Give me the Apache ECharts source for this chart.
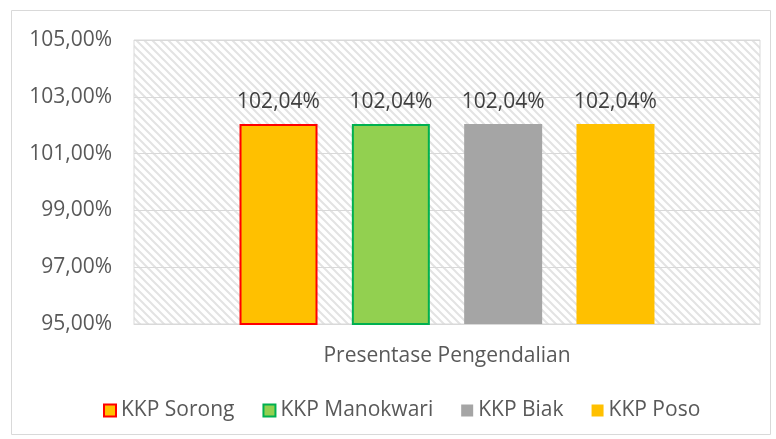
<!DOCTYPE html>
<html><head><meta charset="utf-8">
<script src="https://cdn.jsdelivr.net/npm/echarts@6/dist/echarts.min.js"></script>
<style>html,body{margin:0;padding:0;background:#fff}#c{width:776px;height:439px}</style>
</head><body><div id="c"></div>
<script>
var categories = ['Presentase Pengendalian'];
var seriesNames = ['KKP Sorong', 'KKP Manokwari', 'KKP Biak', 'KKP Poso'];
var seriesValues = [[102.04], [102.04], [102.04], [102.04]];
var yTicks = [95, 97, 99, 101, 103, 105];

var fills = ['#FFC000', '#92D050', '#A5A5A5', '#FFC000'];
var borders = ['#FF0000', '#00B050', '#A5A5A5', '#FFC000'];
var borderW = [2, 2, 0, 0];

var pc = document.createElement('canvas');
pc.width = 8; pc.height = 8;
var g = pc.getContext('2d');
g.fillStyle = '#fff'; g.fillRect(0,0,8,8);
g.strokeStyle = '#E3E3E3'; g.lineWidth = 2;
g.beginPath();
g.moveTo(-2,-2); g.lineTo(10,10);
g.moveTo(-2,6); g.lineTo(2,10);
g.moveTo(6,-2); g.lineTo(10,2);
g.stroke();

function fmt(v){ return v.toFixed(2).replace('.', ',') + '%'; }

var FONT = 'Open Sans';
var FS = 21;
var chart = echarts.init(document.getElementById('c'));
chart.setOption({
  animation: false,
  textStyle: { fontFamily: FONT },
  graphic: [{ type: 'rect', shape: { x: 11.5, y: 10.5, width: 759, height: 424 }, style: { fill: 'none', stroke: '#D9D9D9', lineWidth: 1 }, silent: true }],
  grid: { left: 134, right: 16, top: 40, bottom: 115, show: true, backgroundColor: { image: pc, repeat: 'repeat' }, borderColor: '#D9D9D9', borderWidth: 1 },
  legend: {
    top: 395, left: 98, itemWidth: 12, itemHeight: 12, itemGap: 28,
    textStyle: { fontSize: FS, color: '#595959', fontFamily: FONT, padding: [0,0,0,0] },
    data: seriesNames.map(function(n, i){ return { name: n, icon: 'rect', itemStyle: { color: fills[i], borderColor: borders[i], borderWidth: borderW[i] } }; })
  },
  xAxis: {
    type: 'category', data: categories,
    axisLine: { lineStyle: { color: '#D9D9D9' } }, axisTick: { show: false },
    axisLabel: { fontSize: FS, color: '#595959', margin: 22, fontFamily: FONT }
  },
  yAxis: {
    type: 'value', min: 95, max: 105, interval: 2,
    axisLine: { show: false }, axisTick: { show: false },
    splitLine: { lineStyle: { color: '#D9D9D9' } },
    axisLabel: { fontSize: FS, color: '#595959', margin: 22, fontFamily: FONT, formatter: function(v){ return fmt(v); } }
  },
  series: seriesNames.map(function(n, i){
    return {
      name: n, type: 'bar', data: seriesValues[i], barWidth: 78, barGap: '44%',
      itemStyle: { color: fills[i], borderColor: borders[i], borderWidth: borderW[i] },
      label: { show: true, position: 'top', distance: 12, fontSize: FS, color: '#404040', fontFamily: FONT, formatter: function(p){ return fmt(p.value); } }
    };
  })
});
</script></body></html>
